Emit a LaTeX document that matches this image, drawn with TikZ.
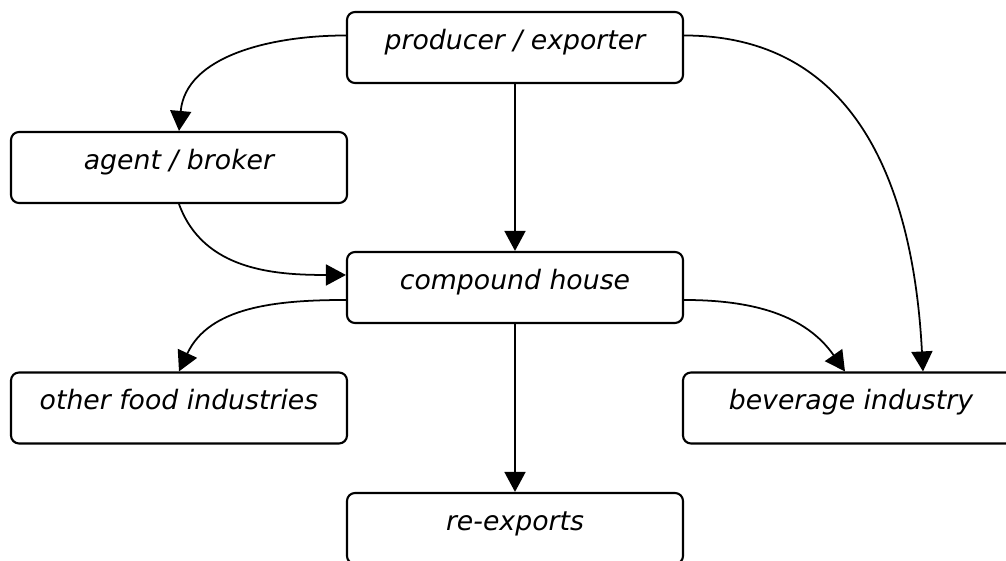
\documentclass[tikz,border=0pt]{standalone}
\usepackage{fontspec}
\setmainfont{DejaVu Sans}
\usepackage{tikz}
\usetikzlibrary{positioning}
\usetikzlibrary{calc}
\usetikzlibrary{arrows.meta}

\begin{document}
\begin{tikzpicture}
% définition des paramètres
\tikzstyle boitefiliere=[draw=black,line width=0.6pt,rounded corners=0.08cm,minimum width=3.36cm,minimum height=0.71cm,inner sep=0pt,text height=0.23cm,text depth=0.19cm,font=\fontsize{7.6}{9}\selectfont\itshape]
\tikzstyle flechefiliere=[color=black,line width=0.5pt,-{Triangle[length=0.2cm,width=0.21cm]}]
\newcommand{\decalhaut}{0.12cm} % décalage des points d'attache
\newcommand{\decalbas}{-0.125cm}
% le cadre
\useasboundingbox (0,0) rectangle (10.06,5.61);
% les boîtes
\node[boitefiliere] (producteur) at (5.15,5.135) {producer / exporter};
\node[boitefiliere] (agent) at (1.79,3.935) {agent / broker};
\node[boitefiliere] (compound) at (5.15,2.735) {compound house};
\node[boitefiliere] (autres) at (1.79,1.53) {other food industries};
\node[boitefiliere] (boissons) at (8.51,1.53) {beverage industry};
\node[boitefiliere] (reexport) at (5.15,0.325) {re-exports};
% les flèches
\draw[flechefiliere] ([yshift=\decalhaut]producteur.west) to[out=180,in=85] (agent.north);
\draw[flechefiliere] (producteur.south) -- (compound.north);
\draw[flechefiliere] ([yshift=\decalhaut]producteur.east) to[out=0,in=93,looseness=1.1] ([xshift=0.72cm]boissons.north);
\draw[flechefiliere] (agent.south) to[out=-70,in=180] ([yshift=0.125cm]compound.west);
\draw[flechefiliere] ([yshift=\decalbas]compound.west) to[out=180,in=65] (autres.north);
\draw[flechefiliere] ([yshift=\decalbas]compound.east) to[out=0,in=125] ([xshift=-0.06cm]boissons.north);
\draw[flechefiliere] (compound.south) -- (reexport.north);
\end{tikzpicture}
\end{document}
